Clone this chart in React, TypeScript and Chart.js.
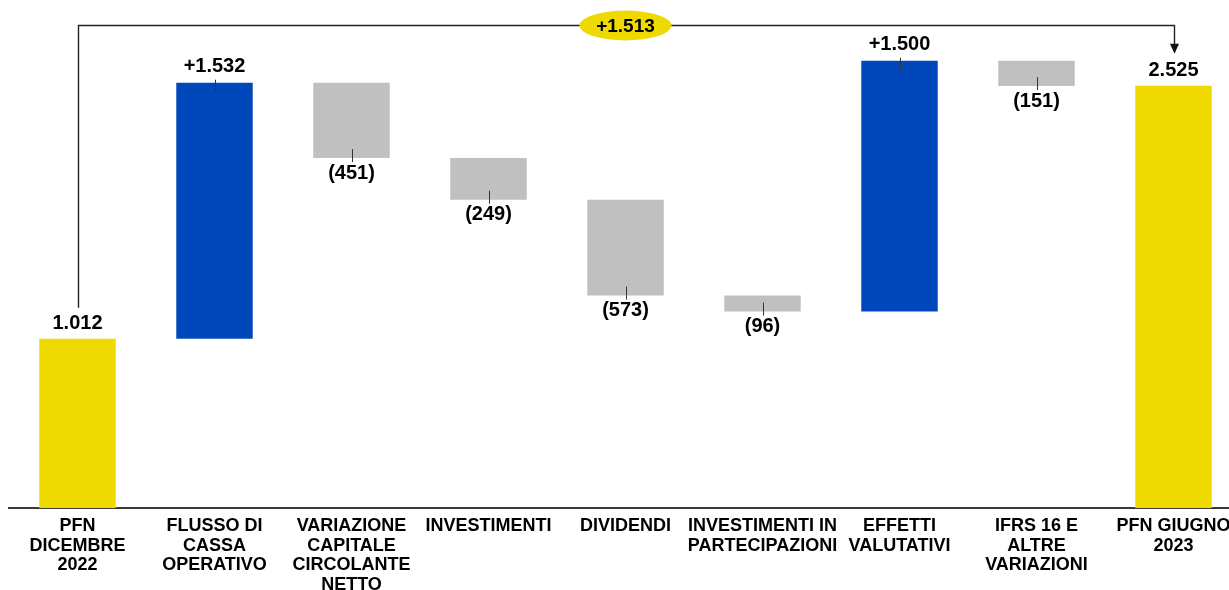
import React, { useEffect, useRef } from 'react';
import { Chart, registerables } from 'chart.js';

Chart.register(...registerables);

const categories: string[][] = [
  ['PFN', 'DICEMBRE', '2022'],
  ['FLUSSO DI', 'CASSA', 'OPERATIVO'],
  ['VARIAZIONE', 'CAPITALE', 'CIRCOLANTE', 'NETTO'],
  ['INVESTIMENTI'],
  ['DIVIDENDI'],
  ['INVESTIMENTI IN', 'PARTECIPAZIONI'],
  ['EFFETTI', 'VALUTATIVI'],
  ['IFRS 16 E', 'ALTRE', 'VARIAZIONI'],
  ['PFN GIUGNO', '2023'],
];
const startValue = 1012;
const deltas = [1532, -451, -249, -573, -96, 1500, -151];
const endValue = 2525;
const totalChange = 1513;
const yMax = 2910;

const YELLOW = '#EEDA00';
const BLUE = '#0047BB';
const GRAY = '#C0C0C0';
const FONT = "'Liberation Sans', Arial, sans-serif";

const fmt = (n: number) => String(Math.abs(n)).replace(/\B(?=(\d{3})+(?!\d))/g, '.');

// build floating ranges from the values
const ranges: [number, number][] = [];
const kinds: string[] = [];
const labels: string[] = [];
ranges.push([0, startValue]);
kinds.push('total');
labels.push(fmt(startValue));
let run = startValue;
for (const d of deltas) {
  const next = run + d;
  ranges.push([Math.min(run, next), Math.max(run, next)]);
  kinds.push(d >= 0 ? 'up' : 'down');
  labels.push(d >= 0 ? '+' + fmt(d) : '(' + fmt(d) + ')');
  run = next;
}
ranges.push([0, endValue]);
kinds.push('total');
labels.push(fmt(endValue));

const colors = kinds.map((k) => (k === 'total' ? YELLOW : k === 'up' ? BLUE : GRAY));

const annotPlugin = {
  id: 'wfAnnot',
  afterDatasetsDraw(chart: any) {
    const ctx = chart.ctx;
    const xs = chart.scales.x;
    const ys = chart.scales.y;
    const area = chart.chartArea;
    ctx.save();
    ctx.font = `bold 20px ${FONT}`;
    ctx.textAlign = 'center';
    ctx.textBaseline = 'middle';
    ranges.forEach((r, i) => {
      const x = xs.getPixelForValue(i);
      const top = ys.getPixelForValue(r[1]);
      const bottom = ys.getPixelForValue(r[0]);
      const k = kinds[i];
      ctx.fillStyle = '#000';
      ctx.strokeStyle = '#333';
      ctx.lineWidth = 1;
      if (k === 'total') {
        ctx.fillText(labels[i], x, top - 15);
      } else if (k === 'up') {
        ctx.fillText(labels[i], x, top - 16);
        ctx.beginPath();
        ctx.moveTo(Math.round(x) + 0.5, top - 3);
        ctx.lineTo(Math.round(x) + 0.5, top + 9);
        ctx.stroke();
      } else {
        ctx.fillText(labels[i], x, bottom + 15);
        ctx.beginPath();
        ctx.moveTo(Math.round(x) + 0.5, bottom - 9);
        ctx.lineTo(Math.round(x) + 0.5, bottom + 4);
        ctx.stroke();
      }
    });

    // connector
    const last = ranges.length - 1;
    const x0 = Math.round(xs.getPixelForValue(0)) + 0.5;
    const x1 = Math.round(xs.getPixelForValue(last)) + 0.5;
    const topY = Math.round(area.top + 3) + 0.5;
    const top0 = ys.getPixelForValue(ranges[0][1]);
    const top1 = ys.getPixelForValue(ranges[last][1]);
    const tip = top1 - 32;
    ctx.strokeStyle = '#222';
    ctx.lineWidth = 1.4;
    ctx.beginPath();
    ctx.moveTo(x0, top0 - 31);
    ctx.lineTo(x0, topY);
    ctx.lineTo(x1, topY);
    ctx.lineTo(x1, tip - 9);
    ctx.stroke();
    ctx.fillStyle = '#111';
    ctx.beginPath();
    ctx.moveTo(x1 - 4.5, tip - 10);
    ctx.lineTo(x1 + 4.5, tip - 10);
    ctx.lineTo(x1, tip);
    ctx.closePath();
    ctx.fill();

    // ellipse with total change
    const xm = xs.getPixelForValue(Math.floor(last / 2));
    ctx.fillStyle = YELLOW;
    ctx.beginPath();
    ctx.ellipse(xm, topY, 46, 15, 0, 0, Math.PI * 2);
    ctx.fill();
    ctx.fillStyle = '#000';
    ctx.font = `bold 19px ${FONT}`;
    ctx.fillText('+' + fmt(totalChange), xm, topY + 1);
    ctx.restore();
  },
};

export default function App() {
  const ref = useRef<HTMLCanvasElement | null>(null);
  useEffect(() => {
    document.body.style.overflow = 'hidden';
    if (!ref.current) return;
    const chart = new Chart(ref.current, {
      type: 'bar',
      data: {
        labels: categories,
        datasets: [
          {
            data: ranges as any,
            backgroundColor: colors,
            borderWidth: 0,
            barPercentage: 0.558,
            categoryPercentage: 1,
          },
        ],
      },
      options: {
        animation: false,
        responsive: true,
        maintainAspectRatio: false,
        layout: { padding: { left: 1, top: 13.5, right: 0, bottom: 0 } },
        plugins: {
          legend: { display: false },
          tooltip: { enabled: false },
        },
        scales: {
          x: {
            grid: { display: false, drawTicks: false },
            border: { display: true, color: '#3a3a3a', width: 2 },
            ticks: {
              color: '#000',
              padding: 8,
              autoSkip: false,
              maxRotation: 0,
              minRotation: 0,
              font: { family: FONT, size: 18, weight: 'bold', lineHeight: 1.1 },
            },
            afterFit: (scale: any) => {
              scale.height = 90;
            },
          },
          y: {
            display: false,
            min: 0,
            max: yMax,
          },
        },
      },
      plugins: [annotPlugin],
    });
    return () => chart.destroy();
  }, []);
  return (
    <div style={{ height: 582 }}>
      <div style={{ position: 'fixed', left: 8, top: 8, width: 1234, height: 590 }}>
        <canvas ref={ref} />
      </div>
    </div>
  );
}
